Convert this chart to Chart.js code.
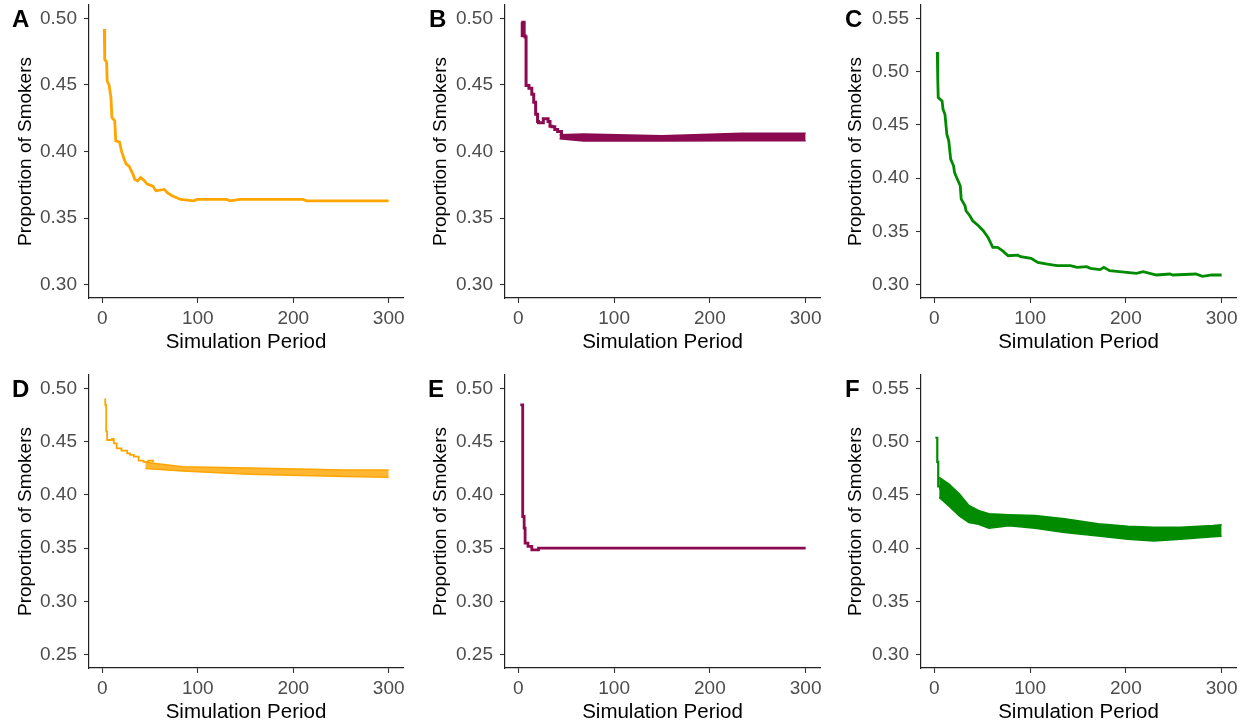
<!DOCTYPE html>
<html>
<head>
<meta charset="utf-8">
<script src="https://cdn.jsdelivr.net/npm/chart.js@4.4.1/dist/chart.umd.min.js"></script>
<style>
  body { margin: 0; background: #fff; width: 1246px; height: 727px; position: relative; overflow: hidden; }
  canvas { position: absolute; }
  .tag { position: absolute; font: bold 24px "Liberation Sans", Arial, sans-serif; line-height: 24px; color: #000; }
</style>
</head>
<body>
<canvas id="chartA" width="415" height="360" style="left:0;top:0"></canvas>
<canvas id="chartB" width="415" height="360" style="left:415px;top:0"></canvas>
<canvas id="chartC" width="416" height="360" style="left:830px;top:0"></canvas>
<canvas id="chartD" width="415" height="360" style="left:0;top:370px"></canvas>
<canvas id="chartE" width="415" height="360" style="left:415px;top:370px"></canvas>
<canvas id="chartF" width="416" height="360" style="left:830px;top:370px"></canvas>
<div class="tag" style="left:12px;top:7px">A</div>
<div class="tag" style="left:429px;top:7px">B</div>
<div class="tag" style="left:845px;top:7px">C</div>
<div class="tag" style="left:12px;top:377px">D</div>
<div class="tag" style="left:428px;top:377px">E</div>
<div class="tag" style="left:845px;top:377px">F</div>
<script>
// tick labels
const xTicks = [0, 100, 200, 300]
const yTicksAB = [0.30, 0.35, 0.40, 0.45, 0.50]
const yTicksCF = [0.30, 0.35, 0.40, 0.45, 0.50, 0.55]
const yTicksDE = [0.25, 0.30, 0.35, 0.40, 0.45, 0.50]

// A
const periodsA = [2, 2.5, 4.5, 5, 7, 9, 10, 13, 14, 18, 20, 23, 25, 28, 32, 34, 37, 40, 44, 47, 53, 56, 65, 68, 73, 82, 96, 99, 130, 134, 144, 210, 214, 300]
const smokersA = [0.492, 0.469, 0.467, 0.453, 0.450, 0.4405, 0.4255, 0.423, 0.408, 0.407, 0.4005, 0.394, 0.3905, 0.389, 0.383, 0.379, 0.378, 0.3805, 0.378, 0.3755, 0.374, 0.3705, 0.3715, 0.369, 0.3668, 0.364, 0.363, 0.364, 0.364, 0.363, 0.364, 0.364, 0.363, 0.363]

// B: early path, then the oscillating band
const periodsB = [3, 4, 5, 6, 7, 8, 11, 14, 16, 18, 20, 21, 26, 31, 33, 35, 38, 41, 45]
const smokersB = [0.497, 0.487, 0.497, 0.487, 0.486, 0.4495, 0.4475, 0.443, 0.437, 0.428, 0.4225, 0.4215, 0.4245, 0.4225, 0.419, 0.4185, 0.4165, 0.415, 0.412]
const bandPeriodsB = [43, 68, 150, 233, 300]
const bandHighB = [0.4125, 0.4132, 0.4119, 0.4137, 0.4137]
const bandLowB = [0.4095, 0.4079, 0.4079, 0.4081, 0.4081]

// C
const periodsC = [3, 3.5, 4, 8, 9, 11, 13, 15, 17, 20, 21, 24, 27, 28, 32, 33, 37, 40, 46, 51, 56, 61, 66, 71, 77, 87, 90, 101, 108, 118, 128, 142, 149, 159, 163, 173, 177, 183, 211, 218, 232, 246, 249, 273, 280, 290, 300]
const smokersC = [0.5184, 0.4928, 0.4756, 0.4725, 0.4647, 0.46, 0.4413, 0.435, 0.4178, 0.4116, 0.4053, 0.399, 0.3928, 0.3803, 0.374, 0.3694, 0.3647, 0.36, 0.3553, 0.3506, 0.3444, 0.335, 0.335, 0.3319, 0.3272, 0.3278, 0.3263, 0.3247, 0.3209, 0.3194, 0.3178, 0.3178, 0.3163, 0.3169, 0.3153, 0.3141, 0.3163, 0.3131, 0.3106, 0.3122, 0.3091, 0.31, 0.3091, 0.31, 0.3078, 0.3091, 0.3091]

// D
const periodsD = [2, 3, 4, 5, 10, 12, 15, 20, 26, 29, 33, 38, 43, 48, 53]
const smokersD = [0.4895, 0.4845, 0.4595, 0.4515, 0.4525, 0.4484, 0.4437, 0.4416, 0.439, 0.4375, 0.4359, 0.4322, 0.431, 0.4322, 0.4305]
const bandPeriodsD = [45, 84, 154, 254, 300]
const bandHighD = [0.4305, 0.4265, 0.4253, 0.4234, 0.4234]
const bandLowD = [0.4248, 0.4225, 0.4194, 0.4173, 0.4165]

// E
const periodsE = [2, 4.5, 6, 7, 10, 14, 21, 300]
const smokersE = [0.4844, 0.3797, 0.3688, 0.3547, 0.3516, 0.3484, 0.35, 0.35]

// F
const periodsF = [1, 3, 4, 6]
const smokersF = [0.5036, 0.481, 0.458, 0.455]
const bandPeriodsF = [5, 15, 26, 36, 46, 57, 78, 105, 136, 171, 202, 229, 257, 291, 300]
const bandHighF = [0.4665, 0.4603, 0.451, 0.44, 0.4353, 0.4322, 0.4313, 0.4306, 0.4275, 0.4228, 0.4206, 0.4197, 0.4197, 0.4212, 0.4219]
const bandLowF = [0.4476, 0.4396, 0.4302, 0.424, 0.4224, 0.4187, 0.4209, 0.4187, 0.4147, 0.4115, 0.4084, 0.4068, 0.4084, 0.4106, 0.4111]

const orange = '#FFA500'
const maroon = '#8B0A50'
const green = '#008B00'
const font = '"Liberation Sans", Arial, sans-serif'

function toPoints(xs, ys) {
    return xs.map((x, i) => ({x: x, y: ys[i]}))
}

function line(xs, ys, color, width, stepped) {
    return {data: toPoints(xs, ys), borderColor: color, borderWidth: width, pointRadius: 0, stepped: stepped, fill: false}
}

function band(xs, high, low, color, fillColor) {
    return [
        {data: toPoints(xs, high), borderColor: color, borderWidth: 1.5, pointRadius: 0, fill: false},
        {data: toPoints(xs, low), borderColor: color, borderWidth: 1.5, pointRadius: 0, fill: '-1', backgroundColor: fillColor}
    ]
}

function makePanel(id, datasets, yMin, yMax, yTicks, yWidth, padRight) {
    new Chart(document.getElementById(id), {
        type: 'line',
        data: {datasets: datasets},
        options: {
            responsive: false,
            animation: false,
            layout: {padding: {top: 5, right: padRight, left: 0, bottom: 0}},
            plugins: {legend: {display: false}, tooltip: {enabled: false}},
            scales: {
                x: {
                    type: 'linear',
                    min: -14,
                    max: 315,
                    afterBuildTicks: s => { s.ticks = xTicks.map(v => ({value: v})) },
                    afterFit: s => { s.height = 62; s.paddingLeft = 0; s.paddingRight = 0 },
                    border: {display: true, color: '#222', width: 1.2},
                    grid: {display: true, drawOnChartArea: false, drawTicks: true, tickLength: 5, color: '#333', tickWidth: 1.1},
                    ticks: {color: '#4D4D4D', font: {family: font, size: 19}, padding: 4, maxRotation: 0, callback: v => String(v)},
                    title: {display: true, text: 'Simulation Period', color: '#000', font: {family: font, size: 20.5}, padding: {top: 0, bottom: 5}}
                },
                y: {
                    type: 'linear',
                    min: yMin,
                    max: yMax,
                    afterBuildTicks: s => { s.ticks = yTicks.map(v => ({value: v})) },
                    afterFit: s => { s.width = yWidth; s.paddingTop = 0; s.paddingBottom = 0 },
                    border: {display: true, color: '#222', width: 1.2},
                    grid: {display: true, drawOnChartArea: false, drawTicks: true, tickLength: 5, color: '#333', tickWidth: 1.1},
                    ticks: {color: '#4D4D4D', font: {family: font, size: 19}, padding: 7, callback: v => v.toFixed(2)},
                    title: {display: true, text: 'Proportion of Smokers', color: '#000', font: {family: font, size: 19}, padding: {top: 14, bottom: 0}}
                }
            }
        }
    })
}

makePanel('chartA', [line(periodsA, smokersA, orange, 2.8, false)], 0.29, 0.51, yTicksAB, 89, 12)
makePanel('chartB', [line(periodsB, smokersB, maroon, 3, true)].concat(band(bandPeriodsB, bandHighB, bandLowB, maroon, maroon)), 0.29, 0.51, yTicksAB, 90, 10)
makePanel('chartC', [line(periodsC, smokersC, green, 2.8, false)], 0.2875, 0.5625, yTicksCF, 91, 10)
makePanel('chartD', [line(periodsD, smokersD, orange, 1.8, true)].concat(band(bandPeriodsD, bandHighD, bandLowD, orange, 'rgba(255,165,0,0.8)')), 0.2375, 0.5125, yTicksDE, 89, 12)
makePanel('chartE', [line(periodsE, smokersE, maroon, 2.8, true)], 0.2375, 0.5125, yTicksDE, 90, 10)
makePanel('chartF', [line(periodsF, smokersF, green, 2.2, true)].concat(band(bandPeriodsF, bandHighF, bandLowF, green, green)), 0.2875, 0.5625, yTicksCF, 91, 10)
</script>
</body>
</html>
